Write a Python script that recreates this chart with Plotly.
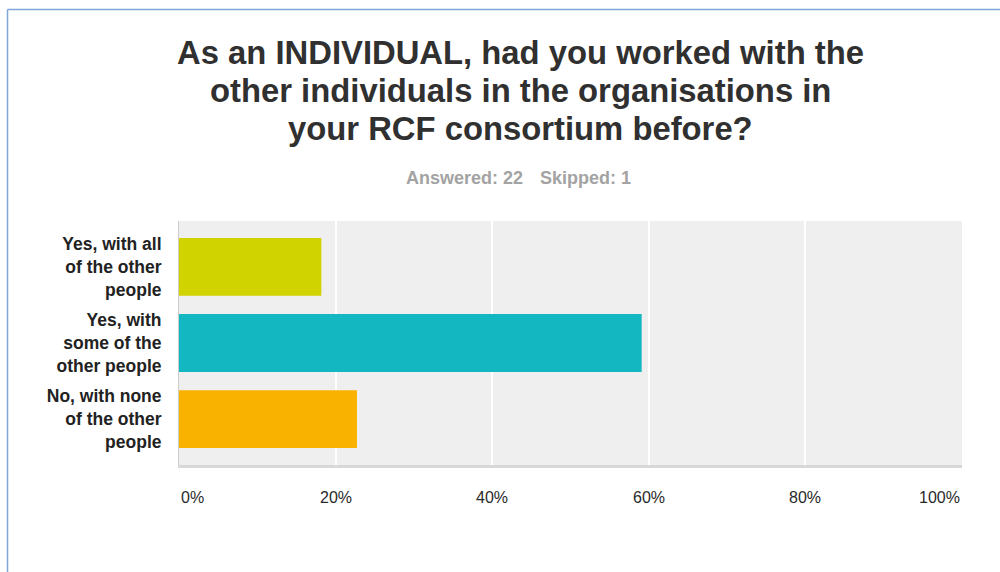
import plotly.graph_objects as go

# Survey responses (share of respondents, %)
categories = [
    "Yes, with all<br>of the other<br>people",
    "Yes, with<br>some of the<br>other people",
    "No, with none<br>of the other<br>people",
]
percentages = [18.18, 59.09, 22.73]
bar_colors = ["#d1d300", "#13b7c1", "#f9b200"]

x_ticks = [0, 20, 40, 60, 80, 100]
x_tick_labels = ["0%", "20%", "40%", "60%", "80%", "100%"]

title_lines = [
    "As an INDIVIDUAL, had you worked with the",
    "other individuals in the organisations in",
    "your RCF consortium before?",
]
answered = 22
skipped = 1

W, H = 1000, 572
L, R, T, B = 179, 38, 221, 107
plot_h = H - T - B


def py(pixel_y):
    """Convert a pixel row into paper y."""
    return (H - B - pixel_y) / plot_h


def px(pixel_x):
    return (pixel_x - L) / (W - L - R)


fig = go.Figure(
    go.Bar(
        x=percentages,
        y=categories,
        orientation="h",
        marker=dict(color=bar_colors, line=dict(width=0)),
        width=0.76,
        hoverinfo="skip",
    )
)

fig.update_layout(
    width=W,
    height=H,
    margin=dict(l=L, r=R, t=T, b=B, pad=0),
    paper_bgcolor="white",
    plot_bgcolor="#efefef",
    showlegend=False,
    font=dict(family="Liberation Sans, Arial, sans-serif", color="#333333"),
)

fig.update_xaxes(
    range=[0, 100],
    tickvals=x_ticks,
    showticklabels=False,
    showgrid=True,
    gridcolor="white",
    gridwidth=2,
    zeroline=False,
    showline=True,
    linecolor="#d8d8d8",
    linewidth=3,
    fixedrange=True,
)

fig.update_yaxes(
    type="category",
    categoryorder="array",
    categoryarray=categories,
    range=[2.605, -0.605],
    showgrid=False,
    zeroline=False,
    showline=True,
    linecolor="#cccccc",
    linewidth=1,
    ticks="",
    ticklabelstandoff=13,
    tickfont=dict(size=17.5, color="#222222", family="Liberation Sans, Arial, sans-serif", weight="bold"),
    fixedrange=True,
)

annotations = []
# Title, one annotation per line
for i, (line, y_pix) in enumerate(zip(title_lines, [52, 90, 128])):
    annotations.append(dict(
        text=f"<b>{line}</b>", xref="paper", yref="paper",
        x=px(520), y=py(y_pix), xanchor="center", yanchor="middle",
        showarrow=False, font=dict(size=32.8, color="#303030"),
    ))

# Response counts
annotations.append(dict(
    text=f"<b>Answered: {answered}</b>", xref="paper", yref="paper",
    x=px(404), y=py(178), xanchor="left", yanchor="middle",
    showarrow=False, font=dict(size=18, color="#a3a3a3"),
))
annotations.append(dict(
    text=f"<b>Skipped: {skipped}</b>", xref="paper", yref="paper",
    x=px(633), y=py(178), xanchor="right", yanchor="middle",
    showarrow=False, font=dict(size=18, color="#a3a3a3"),
))

# X tick labels: first flush left, last flush right
for v, lab in zip(x_ticks, x_tick_labels):
    anchor = "left" if v == x_ticks[0] else ("right" if v == x_ticks[-1] else "center")
    annotations.append(dict(
        text=lab, xref="x", yref="paper", x=v, y=py(497),
        xanchor=anchor, yanchor="middle", showarrow=False,
        font=dict(size=16, color="#2a2a2a"),
    ))

fig.update_layout(annotations=annotations)

# Frame lines along the top and left edges
frame_color = "#7ea6d6"
fig.add_shape(type="line", xref="paper", yref="paper",
              x0=px(7.5), x1=px(1000), y0=py(9.5), y1=py(9.5),
              line=dict(color=frame_color, width=1.5))
fig.add_shape(type="line", xref="paper", yref="paper",
              x0=px(7.5), x1=px(7.5), y0=py(9.5), y1=py(572),
              line=dict(color=frame_color, width=1.5))

fig.write_html("out.html")
